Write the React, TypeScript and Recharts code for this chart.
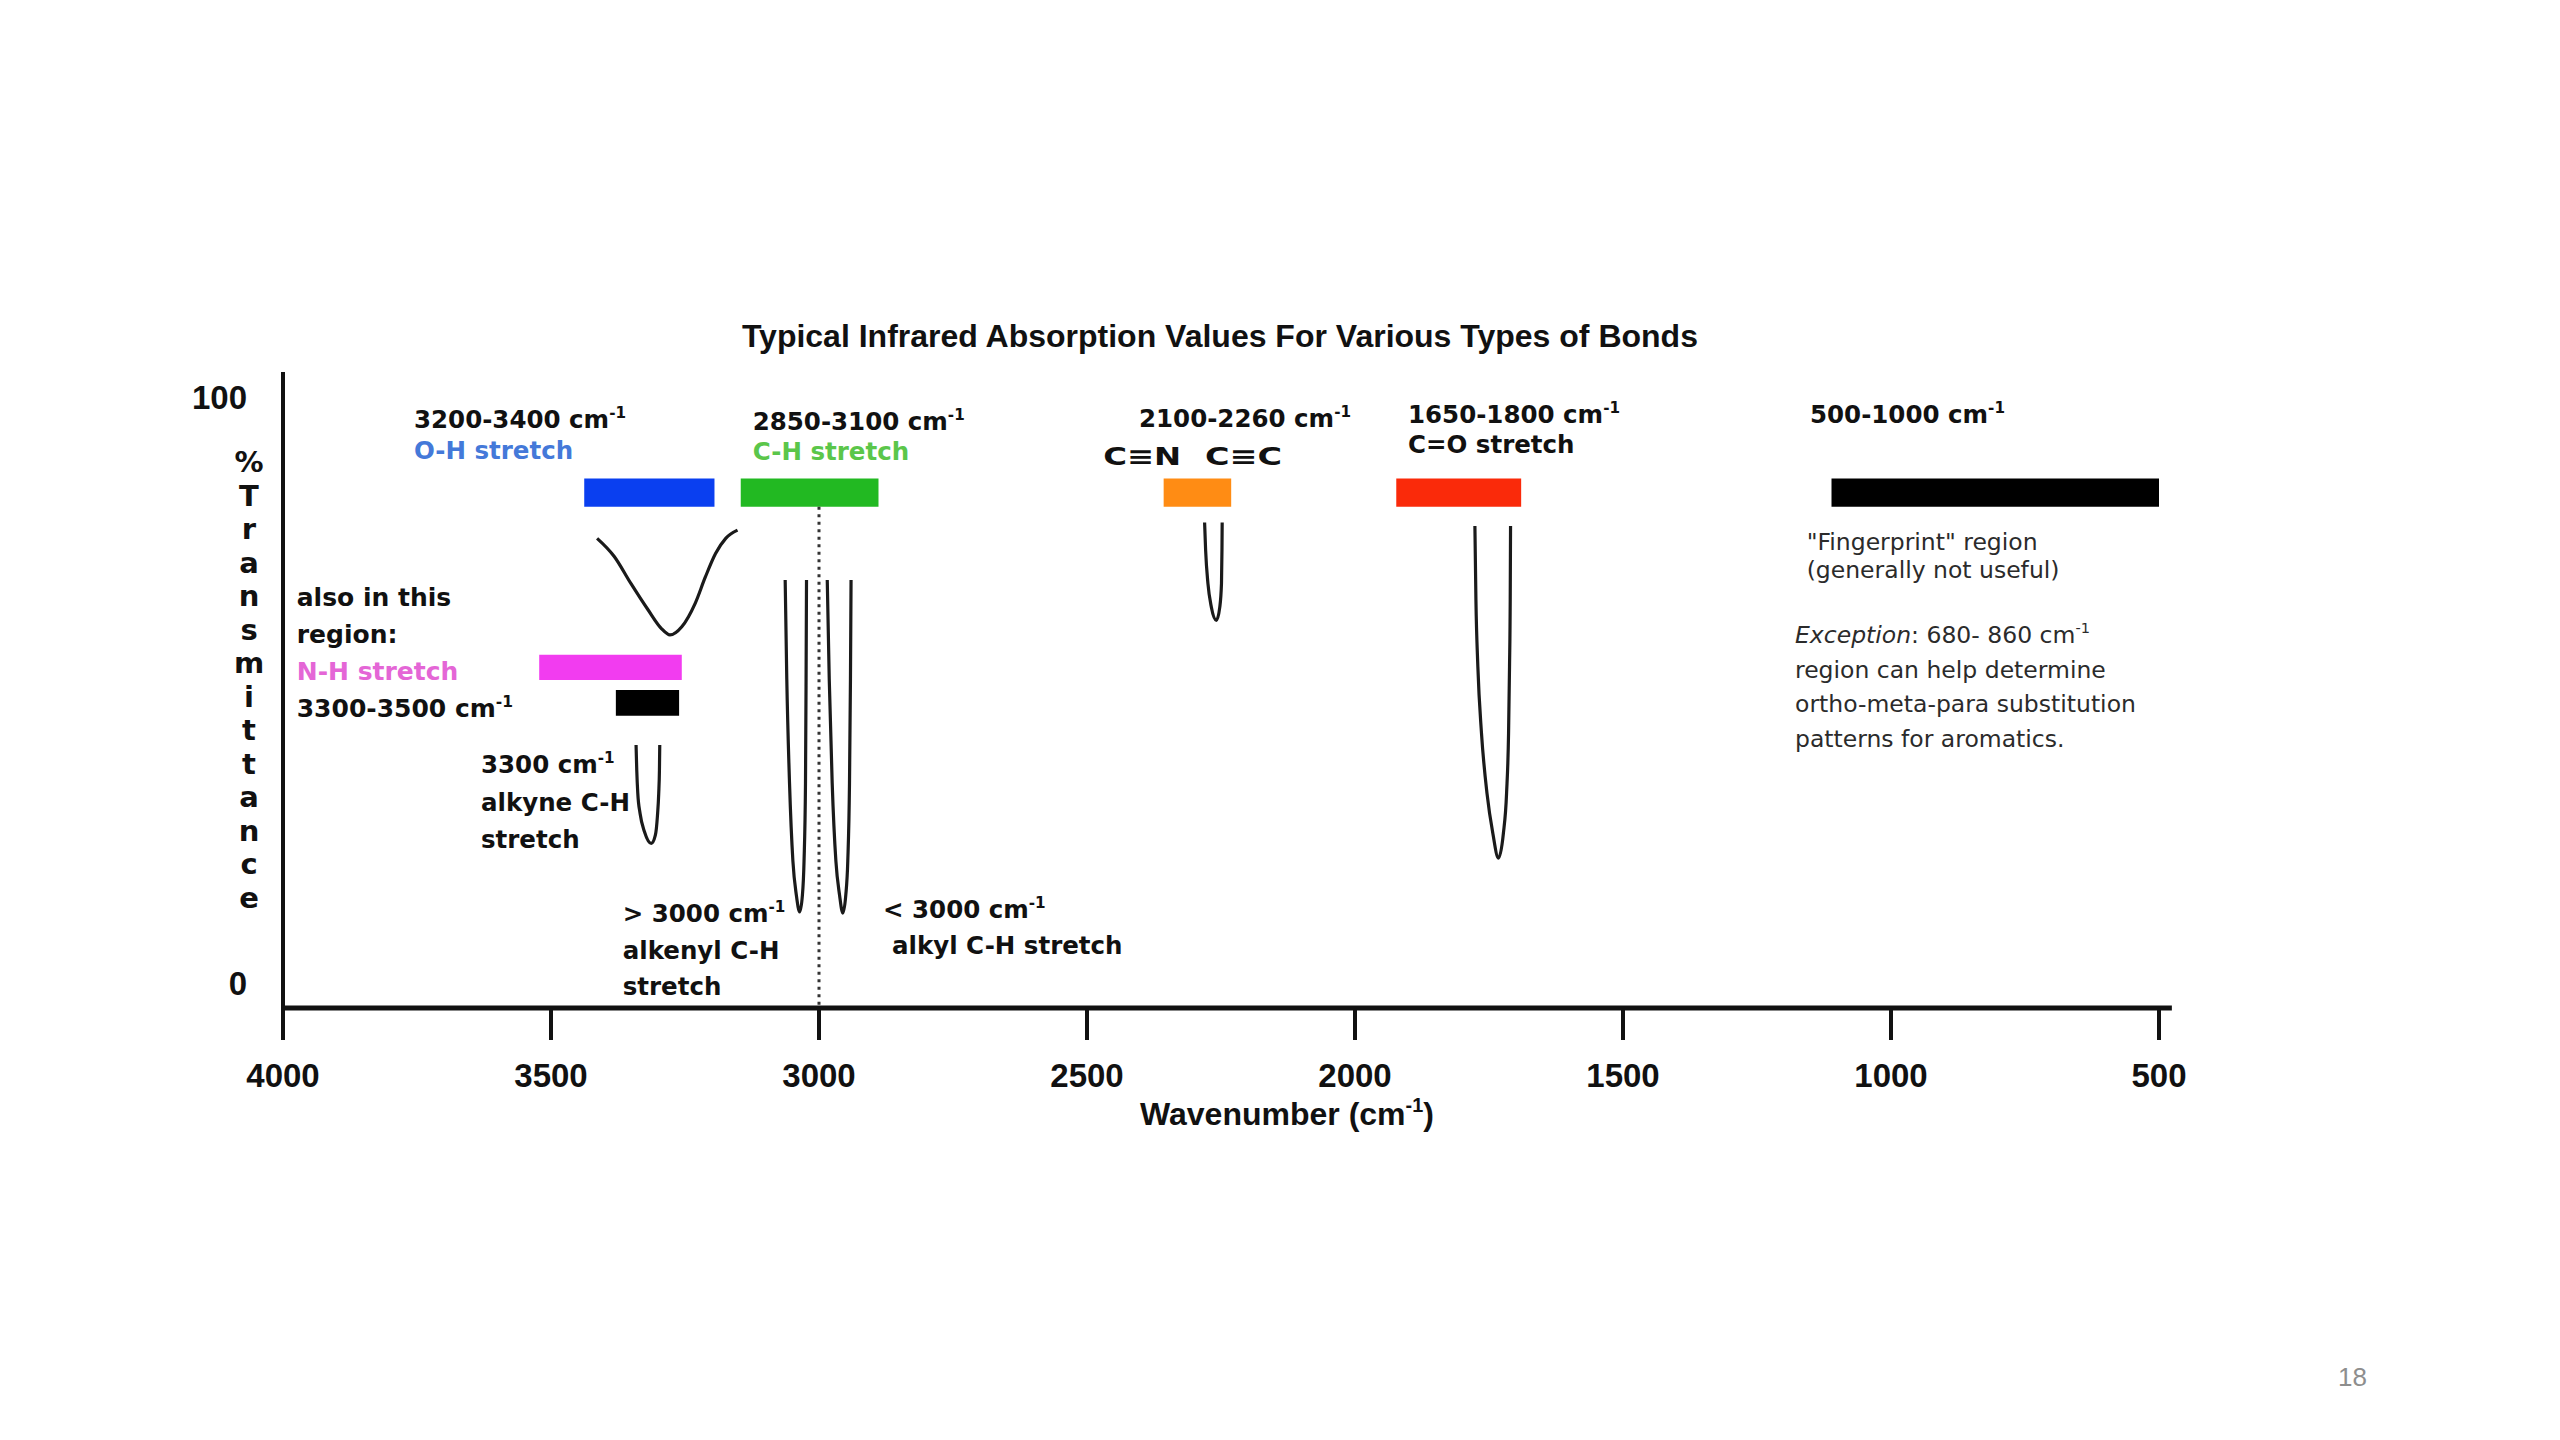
import React from 'react'
import { ComposedChart, Line, XAxis, YAxis, ReferenceArea, ReferenceLine, ReferenceDot } from 'recharts'

// axis ticks (wavenumber in cm-1, % transmittance)
const waveTicks = [4000, 3500, 3000, 2500, 2000, 1500, 1000, 500]
const transTicks = [0, 100]

// coloured range bars
const bands = [
    { id: 'oh', from: 3438, to: 3195, low: 81.3, high: 86.1 },
    { id: 'ch', from: 3146, to: 2889, low: 81.3, high: 86.1 },
    { id: 'triple', from: 2357, to: 2231, low: 81.3, high: 86.1 },
    { id: 'co', from: 1923, to: 1690, low: 81.3, high: 86.1 },
    { id: 'fp', from: 1111, to: 500, low: 81.3, high: 86.1 },
    { id: 'nh', from: 3522, to: 3256, low: 51.7, high: 56.0 },
    { id: 'nhAlt', from: 3379, to: 3261, low: 45.6, high: 50.0 },
]

// absorption peaks (wn = wavenumber, t = %T)
const peakOH = [
    { wn: 3414, t: 75.9 }, { wn: 3382, t: 72.8 }, { wn: 3351, t: 68.2 }, { wn: 3319, t: 63.7 },
    { wn: 3294, t: 60.5 }, { wn: 3278, t: 59.4 }, { wn: 3256, t: 60.8 }, { wn: 3231, t: 64.8 },
    { wn: 3212, t: 69.3 }, { wn: 3193, t: 73.3 }, { wn: 3174, t: 75.9 }, { wn: 3152, t: 77.3 },
]
const peakAlkyne = [
    { wn: 3341.3, t: 40.6 }, { wn: 3340, t: 36.3 }, { wn: 3338.1, t: 32.4 }, { wn: 3333.8, t: 28.9 },
    { wn: 3325.6, t: 25.8 }, { wn: 3312.9, t: 23.8 }, { wn: 3305.3, t: 25.2 }, { wn: 3301.5, t: 28.4 },
    { wn: 3299, t: 32.4 }, { wn: 3297.7, t: 36.3 }, { wn: 3297.1, t: 40.6 },
]
const peakAlkenyl = [
    { wn: 3063.1, t: 68.8 }, { wn: 3060.1, t: 51.9 }, { wn: 3055, t: 34.1 }, { wn: 3048.7, t: 20.8 },
    { wn: 3042.3, t: 15.0 }, { wn: 3036, t: 12.1 }, { wn: 3030.9, t: 15.0 }, { wn: 3027.9, t: 20.8 },
    { wn: 3025.2, t: 34.1 }, { wn: 3024.1, t: 51.9 }, { wn: 3023.3, t: 68.8 },
]
const peakAlkyl = [
    { wn: 2984.6, t: 68.8 }, { wn: 2980.9, t: 51.9 }, { wn: 2975.4, t: 34.1 }, { wn: 2968.5, t: 20.8 },
    { wn: 2961.7, t: 15.0 }, { wn: 2955.6, t: 11.9 }, { wn: 2950, t: 15.0 }, { wn: 2946.3, t: 20.8 },
    { wn: 2943.1, t: 34.1 }, { wn: 2941.3, t: 51.9 }, { wn: 2940.2, t: 68.8 },
]
const peakTriple = [
    { wn: 2280.6, t: 78.6 }, { wn: 2278.7, t: 73.9 }, { wn: 2274.4, t: 68.2 }, { wn: 2268.1, t: 64.2 },
    { wn: 2258.6, t: 61.9 }, { wn: 2252.2, t: 64.2 }, { wn: 2249.1, t: 68.2 }, { wn: 2248.2, t: 73.9 },
    { wn: 2247.8, t: 78.6 },
]
const peakCarbonyl = [
    { wn: 1776.3, t: 78.0 }, { wn: 1774.4, t: 65.4 }, { wn: 1770.8, t: 54.0 }, { wn: 1764, t: 42.6 },
    { wn: 1753.8, t: 32.4 }, { wn: 1742.8, t: 25.5 }, { wn: 1732.4, t: 21.3 }, { wn: 1723.2, t: 25.5 },
    { wn: 1717.2, t: 32.4 }, { wn: 1713.5, t: 42.6 }, { wn: 1711.7, t: 54.0 }, { wn: 1710.4, t: 65.4 },
    { wn: 1709.8, t: 78.0 },
]
const peaks = [peakOH, peakAlkyne, peakAlkenyl, peakAlkyl, peakTriple, peakCarbonyl]

const bandColors: Record<string, string> = {
    oh: '#0a3ff0',
    ch: '#22b922',
    triple: '#ff8c14',
    co: '#fa2a0a',
    fp: '#000000',
    nh: '#f23cf0',
    nhAlt: '#000000',
}

const BOLD = { family: 'DejaVu Sans', weight: 'bold', size: 24.5, gap: 30.4, fill: '#111' }
const PLAIN = { family: 'DejaVu Sans', weight: 'normal', size: 23.5, gap: 34.5, fill: '#2b2b2b' }
const HEAD = { family: 'Liberation Sans', weight: 'bold', size: 32, gap: 34, fill: '#111' }

type NoteStyle = { family: string; weight: string; size: number; gap: number; fill: string; fills?: string[]; anchor?: string; fit?: number }

// "cm^-1^)" -> superscript between the carets, *text* -> italic
const renderLine = (line: string, size: number) => {
    const [base, sup, rest] = line.split('^')
    const parts = base.split('*')
    const out: React.ReactNode[] = parts.map((s, i) =>
        s ? <tspan key={'b' + i} fontStyle={i % 2 ? 'italic' : 'normal'}>{s}</tspan> : null
    )
    if (sup) out.push(<tspan key="sup" dy={-size * 0.42} fontSize={size * 0.62}>{sup}</tspan>)
    if (rest) out.push(<tspan key="rest" dy={size * 0.42} fontSize={size}>{rest}</tspan>)
    return out
}

const note = (lines: string[], st: NoteStyle) => (p: any) => {
    const cx = p.cx ?? 0
    const cy = p.cy ?? 0
    return (
        <g>
            {lines.map((ln, i) => (
                <text
                    key={i}
                    x={cx}
                    y={cy + i * st.gap}
                    fontFamily={st.family}
                    fontWeight={st.weight}
                    fontSize={st.size}
                    fill={st.fills ? st.fills[i] : st.fill}
                    textAnchor={st.anchor ?? 'start'}
                    textLength={st.fit}
                    lengthAdjust={st.fit ? 'spacingAndGlyphs' : undefined}
                >
                    {renderLine(ln, st.size)}
                </text>
            ))}
        </g>
    )
}

const App = () => {
    const dots: { x: number; y: number; lines: string[]; st: NoteStyle }[] = [
        { x: 2252, y: 108.6, lines: ['Typical Infrared Absorption Values For Various Types of Bonds'], st: { ...HEAD, anchor: 'middle' } },
        { x: 2127, y: -24.3, lines: ['Wavenumber (cm^-1^)'], st: { ...HEAD, anchor: 'middle' } },
        { x: 4063.4, y: 87.2, lines: '%Transmittance'.split(''), st: { ...BOLD, size: 29, gap: 33.5, anchor: 'middle' } },
        { x: 3755.6, y: 94.7, lines: ['3200-3400 cm^-1', 'O-H stretch'], st: { ...BOLD, fills: ['#111', '#4479d9'] } },
        { x: 3123.7, y: 94.4, lines: ['2850-3100 cm^-1', 'C-H stretch'], st: { ...BOLD, fills: ['#111', '#5bc64a'] } },
        { x: 2403, y: 94.85, lines: ['2100-2260 cm^-1'], st: BOLD },
        { x: 2469.8, y: 88.4, lines: ['C\u2261N'], st: { ...BOLD, fit: 78 } },
        { x: 2279.9, y: 88.4, lines: ['C\u2261C'], st: { ...BOLD, fit: 77 } },
        { x: 1901.1, y: 95.6, lines: ['1650-1800 cm^-1', 'C=O stretch'], st: BOLD },
        { x: 1151.1, y: 95.6, lines: ['500-1000 cm^-1'], st: BOLD },
        { x: 1157.3, y: 73.9, lines: ['"Fingerprint" region', '(generally not useful)'], st: { ...PLAIN, gap: 28 } },
        {
            x: 1179.1, y: 58.0,
            lines: ['*Exception*: 680- 860 cm^-1', 'region can help determine', 'ortho-meta-para substitution', 'patterns for aromatics.'],
            st: PLAIN,
        },
        { x: 3974.4, y: 64.3, lines: ['also in this', 'region:', 'N-H stretch', '3300-3500 cm^-1'], st: { ...BOLD, size: 25, gap: 37, fills: ['#111', '#111', '#e466d6', '#111'] } },
        { x: 3630.6, y: 35.8, lines: ['3300 cm^-1', 'alkyne C-H', 'stretch'], st: { ...BOLD, gap: 37.5 } },
        { x: 3366.2, y: 10.4, lines: ['> 3000 cm^-1', 'alkenyl C-H', 'stretch'], st: { ...BOLD, gap: 36.7 } },
        { x: 2880.6, y: 11.1, lines: ['< 3000 cm^-1'], st: BOLD },
        { x: 2863.8, y: 4.9, lines: ['alkyl C-H stretch'], st: BOLD },
    ]

    return (
        <div style={{ position: 'relative', width: 2544, height: 1424, background: '#fff' }}>
            <ComposedChart
                width={2544}
                height={1424}
                margin={{ top: 364, right: 393, bottom: 324, left: 175 }}
            >
                <XAxis
                    type="number"
                    dataKey="wn"
                    domain={[500, 4000]}
                    reversed
                    ticks={waveTicks}
                    interval={0}
                    height={100}
                    tickSize={32}
                    tickMargin={24}
                    axisLine={{ stroke: '#111', strokeWidth: 5 }}
                    tickLine={{ stroke: '#111', strokeWidth: 4 }}
                    tick={{ fontSize: 33, fontWeight: 'bold', fill: '#111', fontFamily: 'Liberation Sans' }}
                />
                <YAxis
                    type="number"
                    domain={[-4.3, 104.3]}
                    ticks={transTicks}
                    width={100}
                    tickLine={false}
                    tickSize={6}
                    tickMargin={30}
                    axisLine={{ stroke: '#111', strokeWidth: 4 }}
                    tick={{ fontSize: 33, fontWeight: 'bold', fill: '#111', fontFamily: 'Liberation Sans' }}
                />

                {bands.map((b) => (
                    <ReferenceArea
                        key={b.id}
                        x1={b.from}
                        x2={b.to}
                        y1={b.low}
                        y2={b.high}
                        fill={bandColors[b.id]}
                        fillOpacity={1}
                        stroke="none"
                    />
                ))}

                <ReferenceLine
                    segment={[{ x: 3000, y: 81.3 }, { x: 3000, y: -4.3 }]}
                    stroke="#333"
                    strokeWidth={3}
                    strokeDasharray="3 4.5"
                />
                {/* axis line runs a little past the 500 tick */}
                <ReferenceLine
                    segment={[{ x: 500, y: -4.3 }, { x: 476, y: -4.3 }]}
                    stroke="#111"
                    strokeWidth={5}
                    ifOverflow="visible"
                />

                {peaks.map((pk, i) => (
                    <Line
                        key={i}
                        data={pk}
                        dataKey="t"
                        type="monotone"
                        stroke="#1a1a1a"
                        strokeWidth={3.2}
                        dot={false}
                        activeDot={false}
                        isAnimationActive={false}
                    />
                ))}

                {dots.map((d, i) => (
                    <ReferenceDot key={i} x={d.x} y={d.y} r={0} ifOverflow="visible" shape={note(d.lines, d.st)} />
                ))}
            </ComposedChart>
            <div
                style={{
                    position: 'absolute',
                    left: 2330,
                    top: 1354,
                    fontFamily: 'Liberation Sans',
                    fontSize: 26,
                    color: '#8e8e8e',
                }}
            >
                18
            </div>
        </div>
    )
}

export default App
